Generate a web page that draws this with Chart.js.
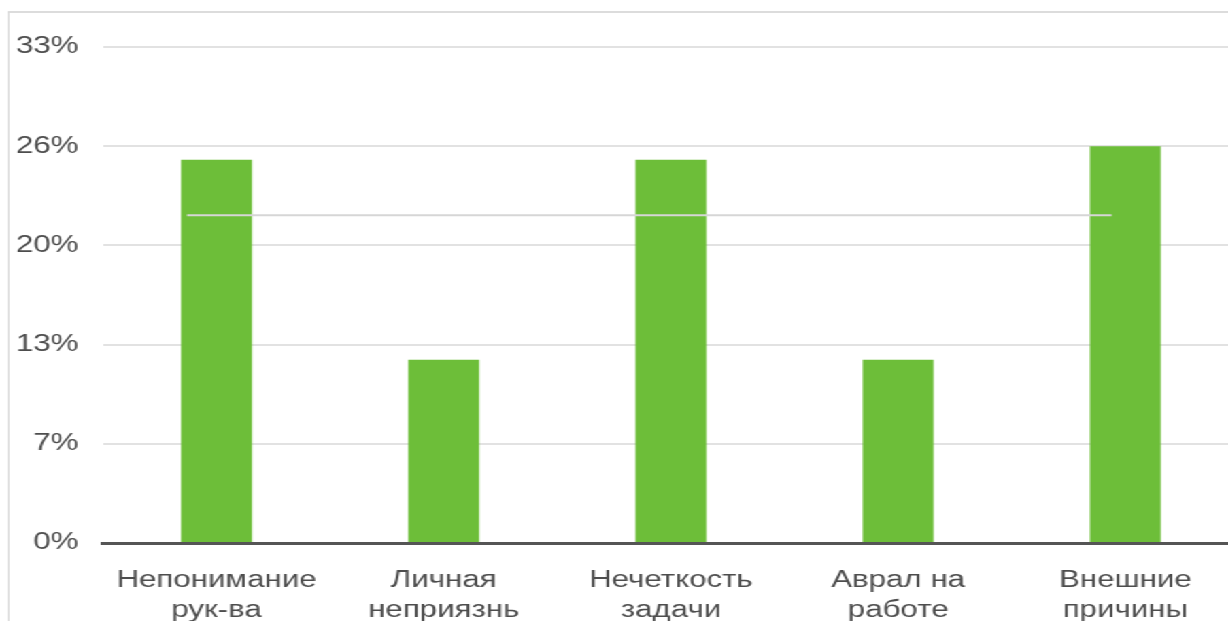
<!DOCTYPE html>
<html>
<head>
<meta charset="utf-8">
<script src="https://cdn.jsdelivr.net/npm/chart.js@4.4.0/dist/chart.umd.min.js"></script>
<style>
html, body { margin: 0; padding: 0; background: #fff; overflow: hidden; width: 1228px; height: 621px; }
/* the reference is stretched sideways, so the whole chart is drawn narrow and widened */
#stretch { position: absolute; left: 0; top: 0; width: 920px; height: 660px; transform: scaleX(1.36); transform-origin: 0 0; }
#frame { position: absolute; left: 6px; top: 11px; width: 914px; height: 650px; border-left: 1.5px solid #d9d9d9; border-top: 2px solid #dcdcdc; }
#box { position: absolute; left: 7.5px; top: 13px; width: 904px; height: 640px; }
</style>
</head>
<body>
<div id="stretch">
  <div id="frame"></div>
  <div id="box"><canvas id="chartReasons"></canvas></div>
</div>
<script>
// Причины (доли ответов, %)
const categories = [
    ['Непонимание', 'рук-ва'],
    ['Личная', 'неприязнь'],
    ['Нечеткость', 'задачи'],
    ['Аврал на', 'работе'],
    ['Внешние', 'причины']
];
const shares = [25.5, 12.2, 25.5, 12.2, 26.4];
const yTicks = [0, 6.6, 13.2, 19.8, 26.4, 33];
const yTickLabels = ['0%', '7%', '13%', '20%', '26%', '33%'];
// thin grey line across the bars (level and where it starts/ends, in category units)
const refLevel = 21.8;
const refFrom = -0.13;
const refTo = 3.94;

const labelFont = { family: "'Liberation Sans', Arial, sans-serif", size: 23, lineHeight: 1.3 };

document.addEventListener('DOMContentLoaded', function() {
    new Chart(document.getElementById('chartReasons').getContext('2d'), {
        type: 'bar',
        data: {
            labels: categories,
            datasets: [{
                type: 'bar',
                label: 'Доля',
                data: shares,
                backgroundColor: '#6dbe39',
                barPercentage: 0.312,
                categoryPercentage: 1,
                grouped: false,
                order: 2
            }, {
                type: 'line',
                label: 'Линия',
                xAxisID: 'x2',
                data: [{ x: refFrom, y: refLevel }, { x: refTo, y: refLevel }],
                borderColor: '#d6d6d6',
                borderWidth: 2,
                pointRadius: 0,
                fill: false,
                order: 1
            }]
        },
        options: {
            responsive: true,
            maintainAspectRatio: false,
            animation: false,
            layout: { padding: { top: 34, right: 0, bottom: 0, left: 0 } },
            plugins: { legend: { display: false }, tooltip: { enabled: false } },
            scales: {
                x: {
                    type: 'category',
                    grid: { display: false },
                    border: { color: '#555', width: 3, z: 1 },
                    ticks: { font: labelFont, color: '#4d4d4d', padding: 15, maxRotation: 0, autoSkip: false },
                    afterFit: function(s) { s.height = 110; }
                },
                x2: { type: 'linear', min: -0.5, max: 4.5, offset: false, display: false },
                y: {
                    min: 0,
                    max: 33,
                    afterBuildTicks: function(s) { s.ticks = yTicks.map(v => ({ value: v })); },
                    ticks: {
                        font: labelFont,
                        color: '#4d4d4d',
                        padding: 18,
                        callback: function(v, i) { return yTickLabels[i]; }
                    },
                    grid: { color: '#e2e2e2', lineWidth: 2, drawTicks: false },
                    border: { display: false },
                    afterFit: function(s) { s.width = 67.7; }
                }
            }
        }
    });
});
</script>
</body>
</html>
